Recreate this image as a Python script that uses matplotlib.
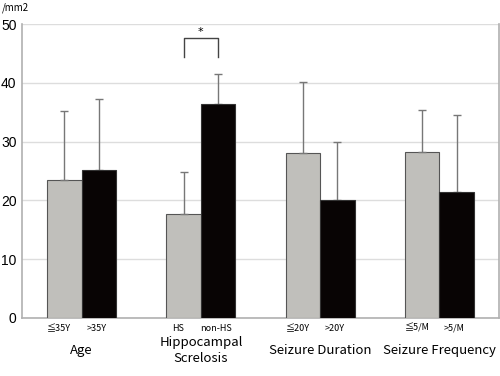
import matplotlib
matplotlib.use("Agg")
import matplotlib.pyplot as plt
import numpy as np

plt.rcParams['font.family'] = ['Noto Sans CJK JP', 'DejaVu Sans']

groups = ["Age", "Hippocampal\nScrelosis", "Seizure Duration", "Seizure Frequency"]
sub_left = ["≦35Y", "HS", "≦20Y", "≦5/M"]
sub_right = [">35Y", "non-HS", ">20Y", ">5/M"]
gray_vals = [23.5, 17.6, 28.1, 28.3]
gray_err = [11.7, 7.3, 12.1, 7.1]
black_vals = [25.2, 36.5, 20.1, 21.4]
black_err = [12.1, 5.0, 9.8, 13.1]
yticks = [0, 10, 20, 30, 40, 50]

fig = plt.figure(figsize=(5.0, 3.76), dpi=100)
ax = fig.add_axes([22/500, 1-317.7/376, 477/500, (317.7-24.3)/376])

x = np.arange(len(groups))
w = 0.29
ax.bar(x - w/2, gray_vals, w, color="#c0bfbb", edgecolor="#555555", linewidth=0.8, zorder=3)
ax.bar(x + w/2, black_vals, w, color="#080404", edgecolor="#333333", linewidth=0.8, zorder=3)
ax.errorbar(x - w/2, gray_vals, yerr=[np.zeros(4), gray_err], fmt="none", ecolor="#777777",
            elinewidth=1.0, capsize=3, capthick=1.0, zorder=4)
ax.errorbar(x + w/2, black_vals, yerr=[np.zeros(4), black_err], fmt="none", ecolor="#777777",
            elinewidth=1.0, capsize=3, capthick=1.0, zorder=2)

ax.set_xlim(-0.5, 3.5)
ax.set_ylim(0, 50)
ax.set_yticks(yticks)
ax.set_yticklabels([str(v) for v in yticks], fontsize=10, family="Liberation Sans")
ax.tick_params(axis="y", length=0, pad=4)
ax.set_xticks([])
ax.grid(axis="y", color="#dddddd", linewidth=1.0, zorder=0)
for s in ["left", "bottom", "right"]:
    ax.spines[s].set_color("#b0b0b0")
    ax.spines[s].set_linewidth(1.2)
ax.spines["top"].set_visible(False)

# significance bracket
ax.plot([1 - w/2, 1 - w/2, 1 + w/2, 1 + w/2], [44.5, 47.6, 47.6, 44.5], color="#444444", lw=1.0, zorder=5)
ax.text(1, 47.9, "*", ha="center", va="bottom", fontsize=8, family="DejaVu Sans")

# sub labels
for i in range(4):
    ax.text(i - w/2 - 0.05, -1.8, sub_left[i], ha="center", va="center", fontsize=6.5,
            clip_on=False)
    ax.text(i + w/2 - 0.02, -1.8, sub_right[i], ha="center", va="center", fontsize=6.5,
            clip_on=False)
    ax.text(i, -5.6, groups[i], ha="center", va="center", fontsize=9.5, linespacing=1.25,
            clip_on=False)

fig.text(2/500, 1-8/376, "/mm2", fontsize=7, ha="left", va="center")

fig.savefig("out.png", dpi=100)
